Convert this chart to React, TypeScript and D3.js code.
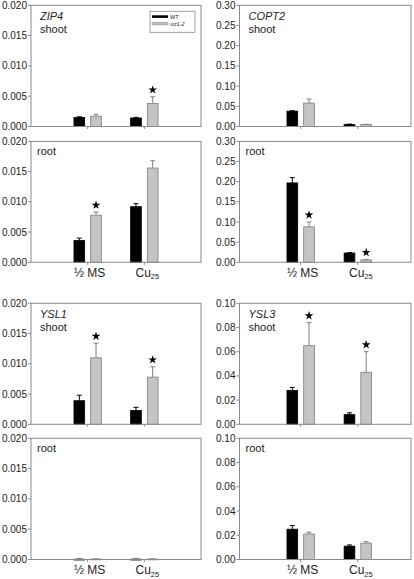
import React from "react";
import * as d3 from "d3";

// ---- data ----
const categories = ["½ MS", "Cu"];
const categorySubs = ["", "25"];
const seriesNames = ["WT", "siz1-2"];

const zip4ShootWT = [0.0015, 0.0014];
const zip4ShootWTErr = [0.0001, 0.0001];
const zip4ShootSiz = [0.0017, 0.0038];
const zip4ShootSizErr = [0.0003, 0.0011];
const zip4ShootStars = [false, true];

const zip4RootWT = [0.0036, 0.0092];
const zip4RootWTErr = [0.0004, 0.0005];
const zip4RootSiz = [0.0078, 0.0156];
const zip4RootSizErr = [0.0005, 0.0012];
const zip4RootStars = [true, false];

const copt2ShootWT = [0.038, 0.005];
const copt2ShootWTErr = [0.001, 0.001];
const copt2ShootSiz = [0.058, 0.005];
const copt2ShootSizErr = [0.01, 0.0005];
const copt2ShootStars = [false, false];

const copt2RootWT = [0.197, 0.023];
const copt2RootWTErr = [0.013, 0.001];
const copt2RootSiz = [0.088, 0.006];
const copt2RootSizErr = [0.012, 0.001];
const copt2RootStars = [true, true];

const ysl1ShootWT = [0.0039, 0.0023];
const ysl1ShootWTErr = [0.0009, 0.0005];
const ysl1ShootSiz = [0.011, 0.0078];
const ysl1ShootSizErr = [0.0024, 0.0017];
const ysl1ShootStars = [true, true];

const ysl1RootWT = [0.00005, 0.00005];
const ysl1RootWTErr = [0.00002, 0.00002];
const ysl1RootSiz = [0.00008, 0.00008];
const ysl1RootSizErr = [0.00002, 0.00002];
const ysl1RootStars = [false, false];

const ysl3ShootWT = [0.028, 0.008];
const ysl3ShootWTErr = [0.0025, 0.0015];
const ysl3ShootSiz = [0.065, 0.043];
const ysl3ShootSizErr = [0.019, 0.017];
const ysl3ShootStars = [true, true];

const ysl3RootWT = [0.025, 0.011];
const ysl3RootWTErr = [0.003, 0.001];
const ysl3RootSiz = [0.021, 0.0135];
const ysl3RootSizErr = [0.0015, 0.0012];
const ysl3RootStars = [false, false];

const ticksSmall = [0, 0.005, 0.01, 0.015, 0.02];
const ticksCopt2 = [0, 0.05, 0.1, 0.15, 0.2, 0.25, 0.3];
const ticksYsl3 = [0, 0.02, 0.04, 0.06, 0.08, 0.1];

// ---- styles ----
const FONT = "Liberation Sans, Arial, sans-serif";
const AXIS = "#8a8a8a";
const TEXT = "#222";
const WT_FILL = "#000";
const SIZ_FILL = "#c4c4c4";
const SIZ_STROKE = "#7f7f7f";

type PanelProps = {
  x0: number;
  x1: number;
  y0: number;
  y1: number;
  xShift: number;
  ticks: number[];
  fmt: string;
  wt: number[];
  wtErr: number[];
  siz: number[];
  sizErr: number[];
  stars: boolean[];
  gene?: string;
  tissue: string;
  showX: boolean;
  legend?: boolean;
};

function Panel(p: PanelProps) {
  const y = d3
    .scaleLinear()
    .domain([0, p.ticks[p.ticks.length - 1]])
    .range([p.y1, p.y0]);
  const x = d3
    .scaleLinear()
    .domain([0, 3])
    .range([p.x0 + p.xShift, p.x1 + p.xShift]);
  const f = d3.format(p.fmt);
  const barW = 10.7;
  const gap = 6;
  const star = d3.symbol().type(d3.symbolStar).size(24)();
  const bars: any[] = [];
  categories.forEach((_, i) => {
    const cx = x(i + 1);
    const groups = [
      { v: p.wt[i], e: p.wtErr[i], fill: WT_FILL, stroke: "#000", bx: cx - gap / 2 - barW, star: false },
      { v: p.siz[i], e: p.sizErr[i], fill: SIZ_FILL, stroke: SIZ_STROKE, bx: cx + gap / 2, star: p.stars[i] },
    ];
    groups.forEach((g, j) => {
      const top = y(g.v);
      const et = y(g.v + g.e);
      const mx = g.bx + barW / 2;
      bars.push(
        <g key={`b${i}-${j}`}>
          <line x1={mx} x2={mx} y1={top} y2={et} stroke={g.stroke} strokeWidth={1} />
          <line x1={mx - 2.5} x2={mx + 2.5} y1={et} y2={et} stroke={g.stroke} strokeWidth={1} />
          <rect
            x={g.bx}
            y={top}
            width={barW}
            height={Math.max(0.8, p.y1 - top)}
            fill={g.fill}
            stroke={g.stroke}
            strokeWidth={0.8}
          />
          {g.star && <path d={star as string} transform={`translate(${mx},${et - 7})`} fill="#000" />}
        </g>
      );
    });
  });
  return (
    <g>
      {p.ticks.map((t) => (
        <g key={t}>
          <line x1={p.x0 - 3} x2={p.x0} y1={y(t)} y2={y(t)} stroke={AXIS} strokeWidth={1} />
          <text
            x={p.x0 - 4}
            y={y(t)}
            dy="0.35em"
            textAnchor="end"
            fontSize={10}
            fontFamily={FONT}
            fill={TEXT}
          >
            {f(t)}
          </text>
        </g>
      ))}
      {categories.map((c, i) => (
        <line key={c} x1={x(i + 1)} x2={x(i + 1)} y1={p.y1} y2={p.y1 + 2.5} stroke={AXIS} strokeWidth={1} />
      ))}
      {bars}
      <rect x={p.x0} y={p.y0} width={p.x1 - p.x0} height={p.y1 - p.y0} fill="none" stroke={AXIS} strokeWidth={1} />
      {p.gene ? (
        <>
          <text x={p.x0 + 9} y={p.y0 + 15} fontSize={11} fontStyle="italic" fontFamily={FONT} fill={TEXT}>
            {p.gene}
          </text>
          <text x={p.x0 + 9} y={p.y0 + 28} fontSize={11} fontFamily={FONT} fill={TEXT}>
            {p.tissue}
          </text>
        </>
      ) : (
        <text x={p.x0 + 6} y={p.y0 + 14} fontSize={11} fontFamily={FONT} fill={TEXT}>
          {p.tissue}
        </text>
      )}
      {p.showX &&
        categories.map((c, i) => (
          <text
            key={c}
            x={x(i + 1) + (categorySubs[i] ? 3 : 2)}
            y={p.y1 + 14.5}
            textAnchor="middle"
            fontSize={12}
            fontFamily={FONT}
            fill={TEXT}
          >
            {c}
            {categorySubs[i] && (
              <tspan fontSize={7.5} dy={2.5}>
                {categorySubs[i]}
              </tspan>
            )}
          </text>
        ))}
      {p.legend && (
        <g>
          <rect x={p.x1 - 51} y={p.y0 + 6} width={45} height={21} fill="#fff" stroke={AXIS} strokeWidth={0.8} />
          <rect x={p.x1 - 49} y={p.y0 + 10} width={16} height={2.6} fill={WT_FILL} />
          <text x={p.x1 - 31} y={p.y0 + 13.2} fontSize={5.5} fontFamily={FONT} fill={TEXT}>
            {seriesNames[0]}
          </text>
          <rect x={p.x1 - 49} y={p.y0 + 17} width={16} height={2.6} fill={SIZ_FILL} stroke={SIZ_STROKE} strokeWidth={0.5} />
          <text x={p.x1 - 31} y={p.y0 + 20.2} fontSize={5.5} fontStyle="italic" fontFamily={FONT} fill={TEXT}>
            {seriesNames[1]}
          </text>
        </g>
      )}
    </g>
  );
}

export default function App() {
  const L = { x0: 31, x1: 201, xShift: 0 };
  const R = { x0: 239.5, x1: 411, xShift: 4 };
  return (
    <div style={{ position: "absolute", left: 0, top: 0 }}>
      <svg width={414} height={579} style={{ display: "block", background: "#fff" }}>
        <Panel {...L} y0={5.3} y1={126.5} ticks={ticksSmall} fmt=".3f"
          wt={zip4ShootWT} wtErr={zip4ShootWTErr} siz={zip4ShootSiz} sizErr={zip4ShootSizErr}
          stars={zip4ShootStars} gene="ZIP4" tissue="shoot" showX={false} legend />
        <Panel {...L} y0={141.4} y1={262.3} ticks={ticksSmall} fmt=".3f"
          wt={zip4RootWT} wtErr={zip4RootWTErr} siz={zip4RootSiz} sizErr={zip4RootSizErr}
          stars={zip4RootStars} tissue="root" showX />
        <Panel {...R} y0={5.3} y1={126.5} ticks={ticksCopt2} fmt=".2f"
          wt={copt2ShootWT} wtErr={copt2ShootWTErr} siz={copt2ShootSiz} sizErr={copt2ShootSizErr}
          stars={copt2ShootStars} gene="COPT2" tissue="shoot" showX={false} />
        <Panel {...R} y0={141.4} y1={262.3} ticks={ticksCopt2} fmt=".2f"
          wt={copt2RootWT} wtErr={copt2RootWTErr} siz={copt2RootSiz} sizErr={copt2RootSizErr}
          stars={copt2RootStars} tissue="root" showX />
        <Panel {...L} y0={303.3} y1={424.3} ticks={ticksSmall} fmt=".3f"
          wt={ysl1ShootWT} wtErr={ysl1ShootWTErr} siz={ysl1ShootSiz} sizErr={ysl1ShootSizErr}
          stars={ysl1ShootStars} gene="YSL1" tissue="shoot" showX={false} />
        <Panel {...L} y0={438.3} y1={559.5} ticks={ticksSmall} fmt=".3f"
          wt={ysl1RootWT} wtErr={ysl1RootWTErr} siz={ysl1RootSiz} sizErr={ysl1RootSizErr}
          stars={ysl1RootStars} tissue="root" showX />
        <Panel {...R} y0={303.3} y1={424.3} ticks={ticksYsl3} fmt=".2f"
          wt={ysl3ShootWT} wtErr={ysl3ShootWTErr} siz={ysl3ShootSiz} sizErr={ysl3ShootSizErr}
          stars={ysl3ShootStars} gene="YSL3" tissue="shoot" showX={false} />
        <Panel {...R} y0={438.3} y1={559.5} ticks={ticksYsl3} fmt=".2f"
          wt={ysl3RootWT} wtErr={ysl3RootWTErr} siz={ysl3RootSiz} sizErr={ysl3RootSizErr}
          stars={ysl3RootStars} tissue="root" showX />
      </svg>
    </div>
  );
}
